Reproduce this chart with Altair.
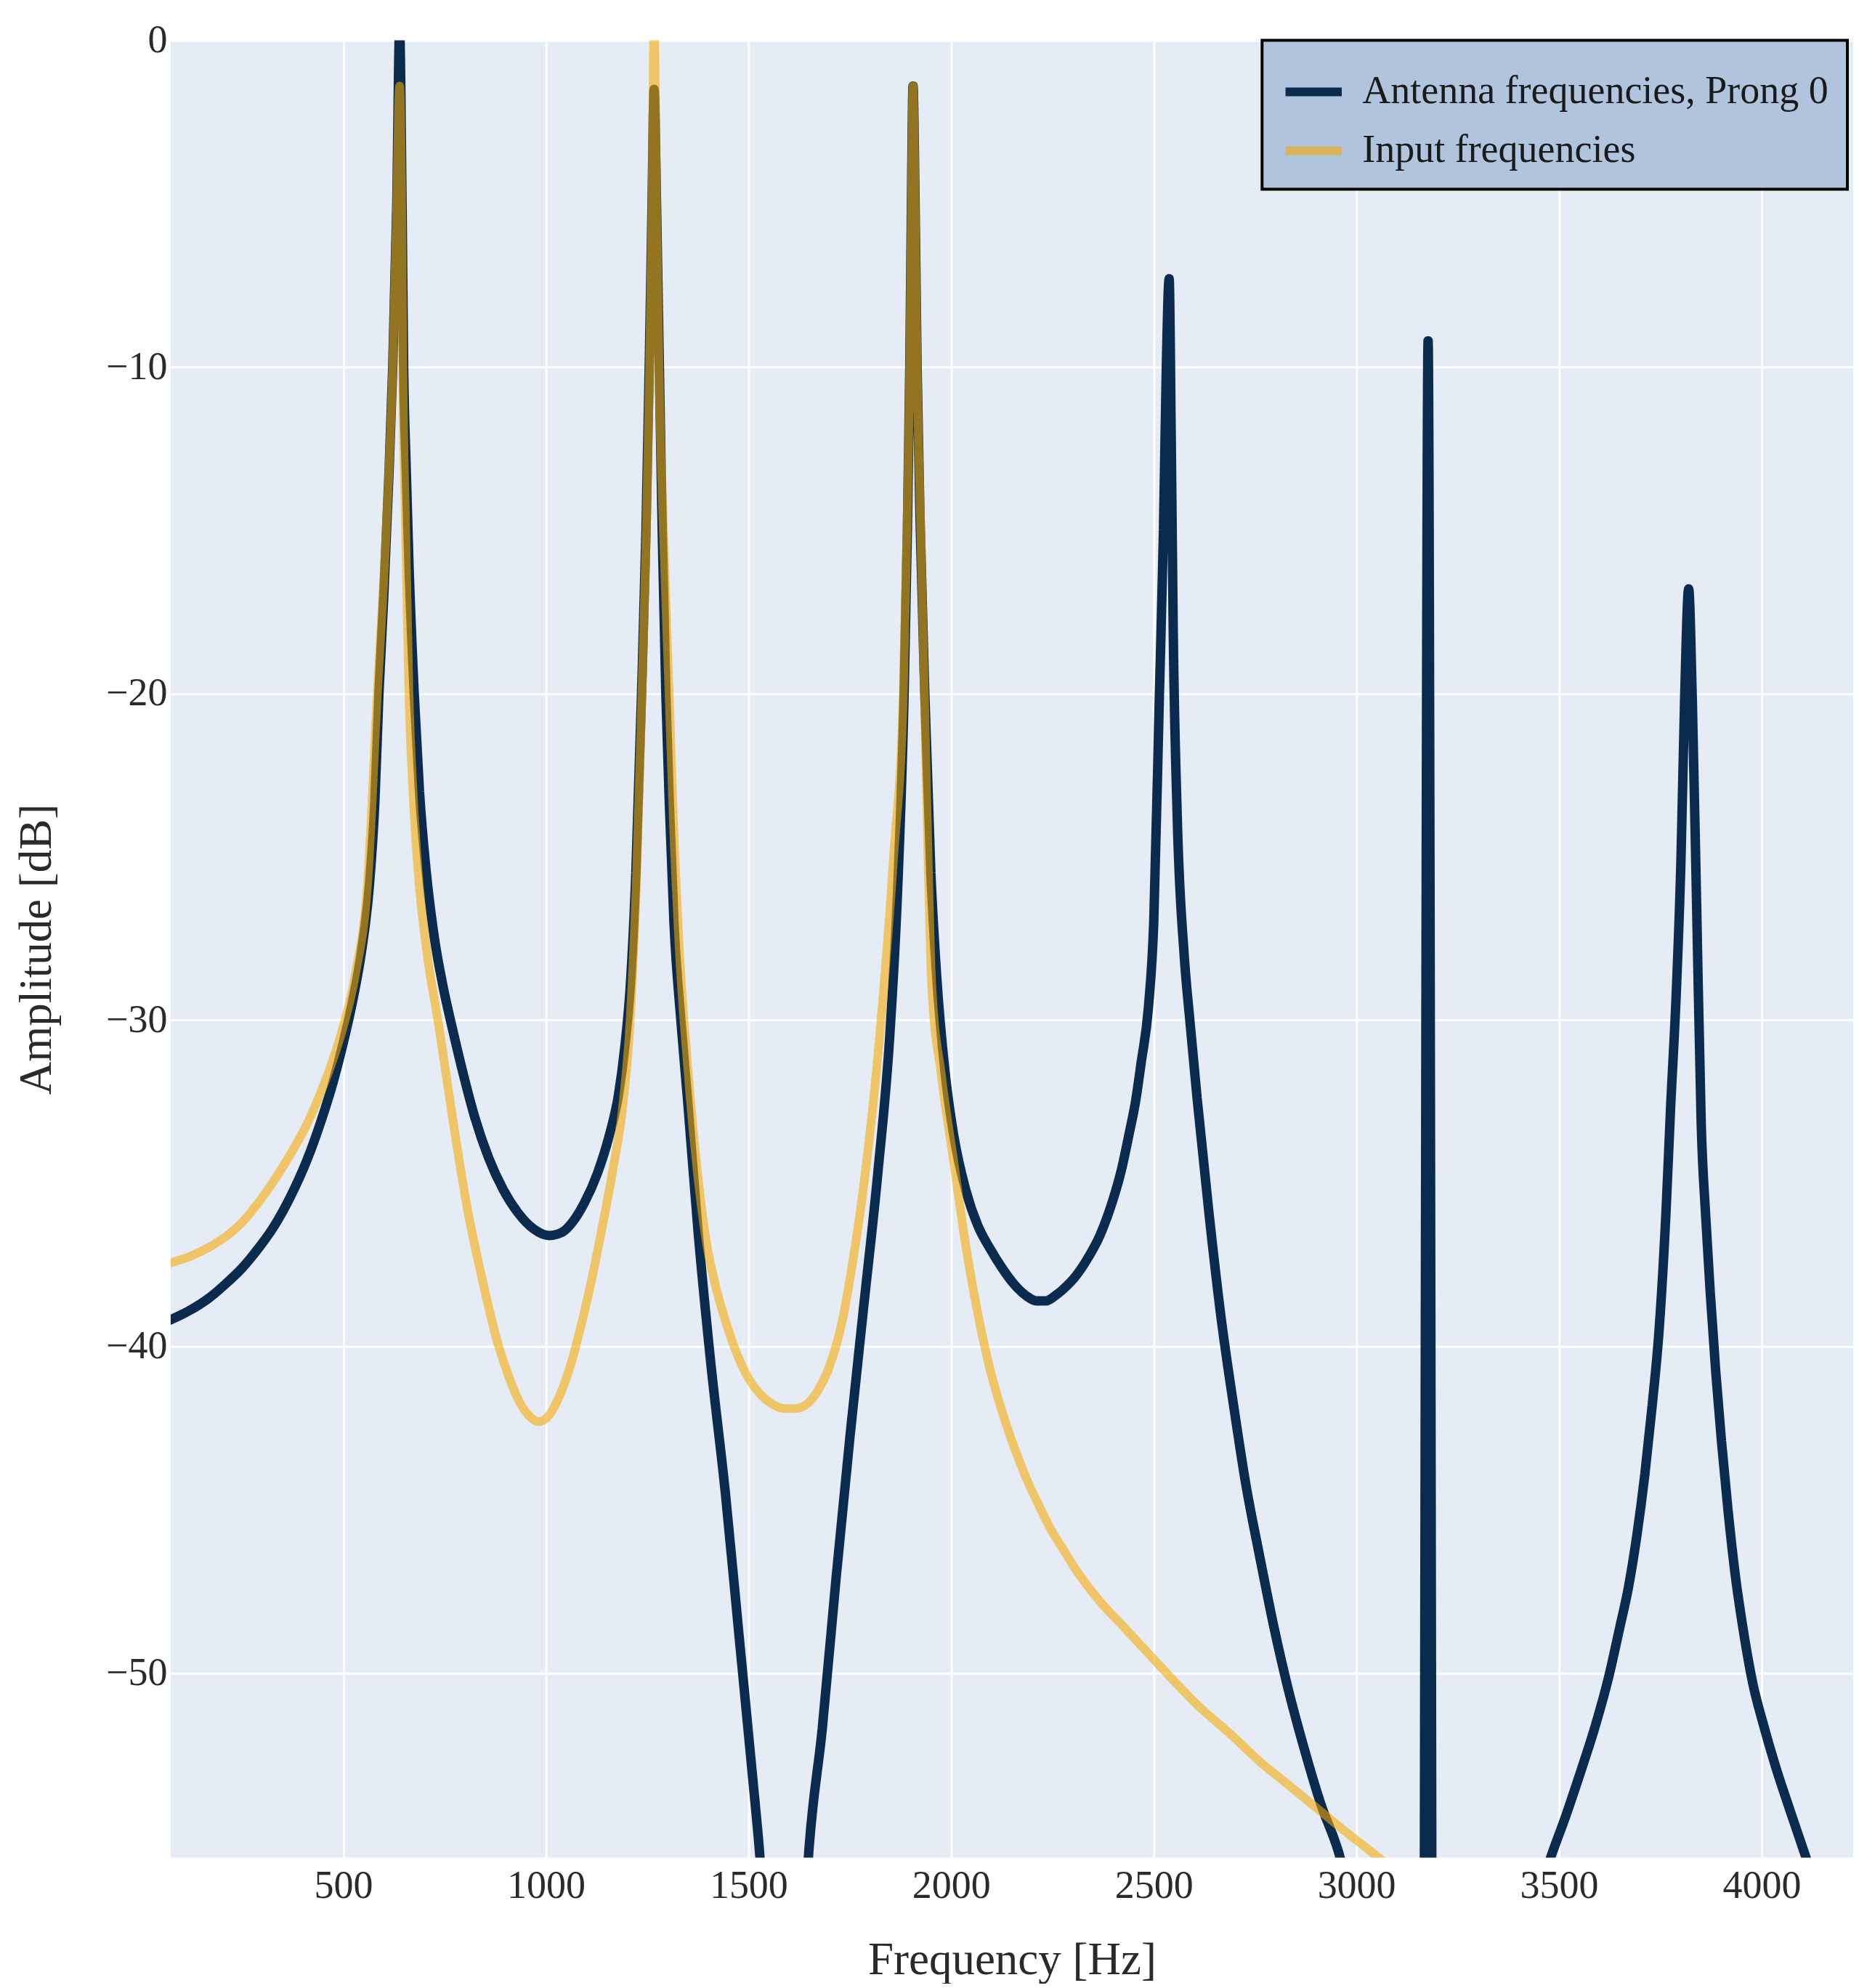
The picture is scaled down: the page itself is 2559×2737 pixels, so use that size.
import altair as alt
import pandas as pd

# Antenna frequencies, Prong 0
freq_antenna = [70, 120, 170, 208, 250, 290, 330, 370, 410, 445, 475, 500, 525, 545, 565, 578,
                588, 600, 612, 622, 632, 639, 645, 649, 655, 662, 675, 688, 705, 725, 745, 770,
                797, 825, 858, 895, 931, 970, 1008, 1040, 1065, 1095, 1127, 1155, 1179, 1195,
                1208, 1222, 1236, 1247, 1255, 1262, 1267, 1273, 1280, 1287, 1296, 1305, 1316,
                1333, 1350, 1375, 1406, 1443, 1477, 1511, 1528, 1560, 1590, 1620, 1648, 1682,
                1716, 1750, 1784, 1819, 1849, 1868, 1884, 1892, 1898, 1902, 1906, 1911, 1916,
                1924, 1935, 1950, 1964, 1985, 2006, 2036, 2066, 2096, 2126, 2156, 2186, 2210,
                2234, 2256, 2276, 2307, 2337, 2367, 2397, 2420, 2439, 2455, 2469, 2487, 2500,
                2514, 2524, 2531, 2538, 2543, 2548, 2558, 2575, 2589, 2607, 2637, 2667, 2697,
                2727, 2761, 2795, 2830, 2871, 2912, 2961, 3000, 3060, 3120, 3162, 3177, 3192,
                3250, 3320, 3400, 3478, 3516, 3554, 3590, 3623, 3650, 3671, 3692, 3712, 3730,
                3747, 3764, 3775, 3790, 3801, 3810, 3820, 3829, 3840, 3851, 3862, 3873, 3887,
                3901, 3917, 3934, 3955, 3978, 4005, 4033, 4070, 4111, 4170, 4230]
amp_antenna = [-39.2, -38.9, -38.5, -38.1, -37.6, -37.0, -36.3, -35.4, -34.3, -33.1, -31.9,
               -30.7, -29.3, -27.9, -25.8, -23.3, -20.0, -17.0, -13.5, -10.0, -5.0, 0.3, -5.0,
               -10.0, -13.0, -16.0, -20.0, -23.0, -25.5, -27.5, -28.9, -30.3, -31.7, -33.0,
               -34.2, -35.2, -35.9, -36.4, -36.6, -36.5, -36.2, -35.6, -34.7, -33.6, -32.3,
               -30.8, -29.0, -25.5, -20.0, -15.0, -10.0, -5.0, -1.5, -5.0, -10.0, -15.0, -20.0,
               -23.5, -27.0, -30.0, -32.5, -36.4, -40.4, -44.5, -48.9, -53.3, -55.6, -62.0,
               -70.0, -62.0, -55.6, -51.7, -47.1, -42.8, -38.8, -34.7, -30.4, -26.0, -20.0,
               -15.0, -10.0, -5.0, -1.4, -5.0, -10.0, -15.0, -20.0, -25.5, -28.6, -31.6, -33.5,
               -35.2, -36.3, -37.0, -37.6, -38.1, -38.45, -38.6, -38.6, -38.45, -38.25, -37.85,
               -37.3, -36.6, -35.6, -34.6, -33.5, -32.5, -31.3, -29.6, -27.0, -20.0, -15.0,
               -10.0, -7.3, -12.0, -18.0, -23.8, -28.0, -30.0, -32.4, -36.0, -39.2, -41.8,
               -44.2, -46.4, -48.5, -50.4, -52.3, -54.0, -55.7, -58.0, -62.0, -68.0, -80.0,
               -9.2, -80.0, -70.0, -64.0, -59.0, -55.7, -54.4, -53.0, -51.6, -50.1, -48.6,
               -47.4, -45.8, -43.9, -41.8, -39.5, -35.9, -32.8, -29.0, -25.1, -20.2, -16.8,
               -20.2, -26.7, -33.2, -36.0, -38.3, -40.8, -42.9, -45.0, -46.9, -48.7, -50.3,
               -51.6, -52.8, -54.2, -55.7, -58.0, -60.0]

# Input frequencies
freq_input = [70, 120, 170, 208, 250, 290, 330, 370, 410, 445, 475, 500, 530, 560, 584, 606,
              622, 632, 639, 644, 647, 654, 662, 672, 685, 705, 736, 760, 786, 808, 828, 855,
              879, 905, 931, 957, 983, 1008, 1034, 1060, 1086, 1112, 1138, 1165, 1190, 1208,
              1224, 1237, 1248, 1256, 1262, 1267, 1273, 1279, 1290, 1304, 1315, 1330, 1349,
              1370, 1396, 1422, 1448, 1474, 1499, 1528, 1557, 1590, 1615, 1645, 1671, 1700,
              1728, 1756, 1784, 1808, 1830, 1858, 1882, 1891, 1898, 1902, 1906, 1911, 1916,
              1925, 1934, 1943, 1952, 1976, 2006, 2036, 2066, 2096, 2126, 2156, 2186, 2216,
              2246, 2276, 2306, 2367, 2427, 2487, 2547, 2610, 2692, 2761, 2830, 2899, 2968,
              3050, 3100, 3200, 3400, 3700, 4000, 4230]
amp_input = [-37.45, -37.25, -36.95, -36.65, -36.2, -35.6, -34.9, -34.1, -33.2, -32.2, -31.2,
             -30.2, -28.6, -25.8, -20.0, -15.0, -10.0, -5.0, -1.4, -5.0, -10.0, -15.0, -20.0,
             -23.0, -25.5, -27.8, -30.2, -32.2, -34.3, -35.9, -37.1, -38.6, -39.8, -40.8,
             -41.6, -42.1, -42.3, -42.1, -41.5, -40.6, -39.4, -38.0, -36.4, -34.6, -32.6,
             -30.0, -25.5, -20.0, -15.0, -10.0, -5.0, 0.5, -5.0, -10.0, -15.0, -20.0, -24.0,
             -28.0, -31.3, -34.2, -36.8, -38.3, -39.4, -40.3, -40.95, -41.45, -41.75, -41.9,
             -41.9, -41.75, -41.35, -40.6, -39.4, -37.5, -35.1, -32.5, -29.6, -25.0, -20.0,
             -15.0, -10.0, -5.0, -1.4, -5.0, -10.0, -15.0, -20.0, -25.0, -28.9, -31.7, -34.3,
             -36.9, -39.0, -40.7, -42.0, -43.1, -44.05, -44.85, -45.6, -46.2, -46.8, -47.8,
             -48.6, -49.4, -50.2, -51.0, -51.9, -52.7, -53.4, -54.1, -54.8, -55.6, -56.1,
             -57.0, -58.8, -61.0, -63.0, -64.5]

series_names = ["Antenna frequencies, Prong 0", "Input frequencies"]
series_colors = ["#0b2b4e", "#f7a800"]
series_opacity = [1.0, 0.58]
x_ticks = [500, 1000, 1500, 2000, 2500, 3000, 3500, 4000]
y_ticks = [0, -10, -20, -30, -40, -50]

df_a = pd.DataFrame({"f": freq_antenna, "a": amp_antenna, "series": series_names[0]})
df_i = pd.DataFrame({"f": freq_input, "a": amp_input, "series": series_names[1]})

FONT = "Liberation Serif"

x_enc = alt.X("f:Q", scale=alt.Scale(domain=[74, 4226], nice=False, zero=False),
              axis=alt.Axis(values=x_ticks, format="d", title="Frequency [Hz]",
                            labelPadding=12, titlePadding=44))
y_enc = alt.Y("a:Q", scale=alt.Scale(domain=[-55.65, 0], nice=False, zero=False),
              axis=alt.Axis(values=y_ticks, title="Amplitude [dB]",
                            labelPadding=5, titlePadding=63))
color_enc = alt.Color("series:N",
                      scale=alt.Scale(domain=series_names, range=series_colors),
                      legend=alt.Legend(title=None, orient="none", legendX=1503, legendY=0))
opacity_enc = alt.Opacity("series:N",
                          scale=alt.Scale(domain=series_names, range=series_opacity),
                          legend=alt.Legend(title=None, orient="none", legendX=1503, legendY=0))

line_a = alt.Chart(df_a).mark_line(strokeWidth=13, clip=True, strokeJoin="bevel",
                                   interpolate="monotone").encode(
    x=x_enc, y=y_enc, color=color_enc, opacity=opacity_enc)
line_i = alt.Chart(df_i).mark_line(strokeWidth=12, clip=True, strokeJoin="bevel",
                                   interpolate="monotone").encode(
    x=x_enc, y=y_enc, color=color_enc, opacity=opacity_enc)

chart = alt.layer(line_a, line_i).properties(
    width=2317, height=2503,
    padding={"left": 11, "top": 20, "right": 0, "bottom": 0},
    background="white",
).configure_view(
    fill="#e5ecf6", strokeWidth=0
).configure_axis(
    grid=True, gridColor="white", gridWidth=3, domain=False, ticks=False,
    labelFont=FONT, labelFontSize=54, labelColor="#2a2a2a",
    titleFont=FONT, titleFontSize=63, titleColor="#2a2a2a", titleFontWeight="normal",
).configure_legend(
    labelFont=FONT, labelFontSize=54, labelColor="#1a1a1a", labelLimit=0,
    symbolType="stroke", symbolStrokeWidth=12, symbolSize=6000,
    fillColor="#b0c4de", strokeColor="black", strokeWidth=4,
    padding=26, rowPadding=9, labelOffset=22,
)

chart.save("out.html", embed_options={"renderer": "svg", "actions": False})
